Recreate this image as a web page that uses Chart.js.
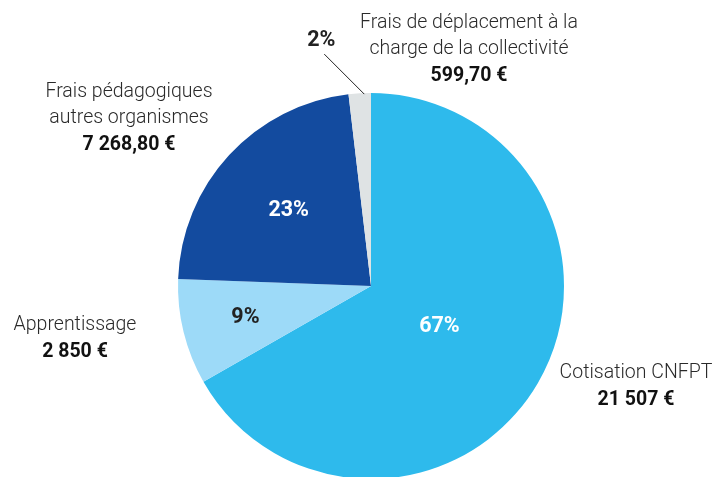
<!DOCTYPE html>
<html>
<head>
<meta charset="utf-8">
<script src="https://cdn.jsdelivr.net/npm/chart.js@4"></script>
<style>
  html, body { margin: 0; padding: 0; background: #ffffff; }
  #wrap { width: 718px; height: 477px; position: relative; }
</style>
</head>
<body>
<div id="wrap"><canvas id="c" width="718" height="477"></canvas></div>
<script>
// ---- data ----
const categories = [
  'Cotisation CNFPT',
  'Apprentissage',
  'Frais pédagogiques autres organismes',
  'Frais de déplacement à la charge de la collectivité'
];
const amounts = [21507, 2850, 7268.80, 599.70];
const amountLabels = ['21 507 €', '2 850 €', '7 268,80 €', '599,70 €'];
const percentLabels = ['67%', '9%', '23%', '2%'];
const labelLines = [
  ['Cotisation CNFPT'],
  ['Apprentissage'],
  ['Frais pédagogiques', 'autres organismes'],
  ['Frais de déplacement à la', 'charge de la collectivité']
];

// ---- styles / layout ----
const sliceColors = ['#2EBAEC', '#9DDAF8', '#134B9F', '#DFE3E4'];
const pctColors = ['#ffffff', '#222222', '#ffffff', '#222222'];
const pctRadial = [0.41, 0.67, 0.58, null];           // null => outside with leader line
const outerLabelPos = [[636, 373], [75, 325], [129, 92], [469, 23]];
const LINE_H = 26;
const REG_FONT = '300 19.5px Roboto, "Noto Sans", sans-serif';
const BOLD_FONT = 'bold 19.5px Roboto, "Noto Sans", sans-serif';
const PCT_FONT = 'bold 21.5px Roboto, "Noto Sans", sans-serif';

const labelPlugin = {
  id: 'pieLabels',
  afterDatasetsDraw(chart) {
    const ctx = chart.ctx;
    const meta = chart.getDatasetMeta(0);
    ctx.save();
    ctx.textAlign = 'center';
    ctx.textBaseline = 'middle';
    meta.data.forEach((arc, i) => {
      const p = arc.getProps(['x', 'y', 'startAngle', 'endAngle', 'outerRadius'], true);
      const mid = (p.startAngle + p.endAngle) / 2;
      ctx.font = PCT_FONT;
      ctx.fillStyle = pctColors[i];
      if (pctRadial[i] !== null) {
        const r = p.outerRadius * pctRadial[i];
        ctx.fillText(percentLabels[i], p.x + Math.cos(mid) * r, p.y + 1 + Math.sin(mid) * r);
      } else {
        const a = p.startAngle + 0.7 * (p.endAngle - p.startAngle);
        const sx = p.x + Math.cos(a) * (p.outerRadius - 1);
        const sy = p.y + Math.sin(a) * (p.outerRadius - 1);
        const ex = sx - 40, ey = sy - 40;
        ctx.strokeStyle = '#222222';
        ctx.lineWidth = 1;
        ctx.beginPath();
        ctx.moveTo(sx, sy);
        ctx.lineTo(ex, ey);
        ctx.stroke();
        ctx.fillText(percentLabels[i], ex - 3, ey - 13);
      }
      // outer category label
      const [lx, ly] = outerLabelPos[i];
      ctx.fillStyle = '#2a2a2a';
      ctx.font = REG_FONT;
      labelLines[i].forEach((t, k) => ctx.fillText(t, lx, ly + k * LINE_H));
      ctx.fillStyle = '#111111';
      ctx.font = BOLD_FONT;
      ctx.fillText(amountLabels[i], lx, ly + labelLines[i].length * LINE_H + 1);
    });
    ctx.restore();
  }
};

new Chart(document.getElementById('c'), {
  type: 'pie',
  data: {
    labels: categories,
    datasets: [{
      data: amounts,
      backgroundColor: sliceColors,
      borderWidth: 0,
      radius: 193
    }]
  },
  options: {
    responsive: false,
    animation: false,
    layout: { padding: { left: 24, right: 0, top: 95, bottom: 0 } },
    plugins: { legend: { display: false }, tooltip: { enabled: false } }
  },
  plugins: [labelPlugin]
});
</script>
</body>
</html>
